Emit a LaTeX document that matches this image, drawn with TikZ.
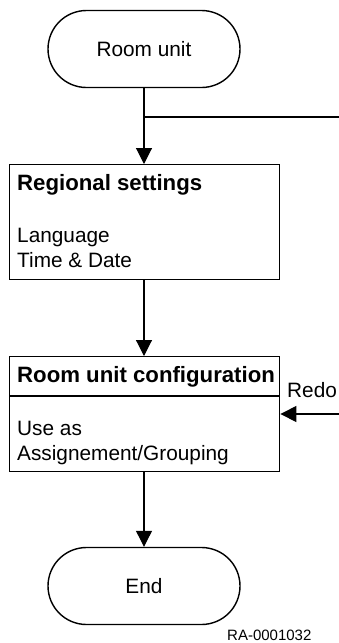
\documentclass[tikz,border=0pt]{standalone}
\usepackage{fontspec}
\setmainfont{Liberation Sans}
\usetikzlibrary{positioning, arrows.meta}
\tikzset{
>={Triangle[length=16pt, width=16pt]}, % filled arrow heads
x=1pt, y=1pt, % one unit is one pixel of the reference
every node/.style={font=\fontsize{20.8}{25}\selectfont, inner sep=0pt},
terminal/.style={draw, line width=1.4pt, rounded corners=38.5pt, minimum width=192pt, minimum height=77pt}, % start and end
block/.style={draw, line width=1.4pt, minimum width=270pt, anchor=north west}, % process boxes
heading/.style={anchor=base west, font=\fontsize{22.2}{25}\selectfont\bfseries},
entry/.style={anchor=base west},
flow/.style={->, line width=1.1pt}, % directed connectors
}
\begin{document}
\begin{tikzpicture}
\useasboundingbox (0,0) rectangle (339,-643);
% start
\node[terminal] (start) at (144,-49) {Room unit};
% regional settings
\node[block, minimum height=115pt] (regional) at (9,-164) {};
\node[heading] (regtitle) at (17,-190) {Regional settings};
\node[entry] (language) at (17,-242) {Language};
\node[entry] (timedate) at (17,-267) {Time \& Date};
% room unit configuration
\node[block, minimum height=115pt] (config) at (9,-356) {};
\coordinate (divleft) at ([yshift=-40pt]config.north west);
\coordinate (divright) at ([yshift=-40pt]config.north east);
\node[heading] (conftitle) at (17,-382) {Room unit configuration};
\node[entry] (useas) at (17,-435) {Use as};
\node[entry] (grouping) at (17,-460) {Assignement/Grouping};
% end
\node[terminal] (end) at (144,-586) {End};
% loose ends
\coordinate (branchout) at (339,-117);
\coordinate (redoin) at (339,-414);
\node[anchor=base west] (redo) at (287,-397) {Redo};
\node[anchor=base west, font=\fontsize{15}{18}\selectfont] (ranum) at (227,-640) {RA-0001032};
\draw[line width=1.4pt] (divleft) -- (divright);
\draw[flow] (start) -- (regional.north -| start);
\draw[line width=1.1pt] (start.south |- branchout) -- (branchout);
\draw[flow] (regional.south -| start) -- (config.north -| start);
\draw[flow] (config.south -| start) -- (end);
\draw[flow] (redoin) -- (redoin -| config.east);
\end{tikzpicture}
\end{document}
